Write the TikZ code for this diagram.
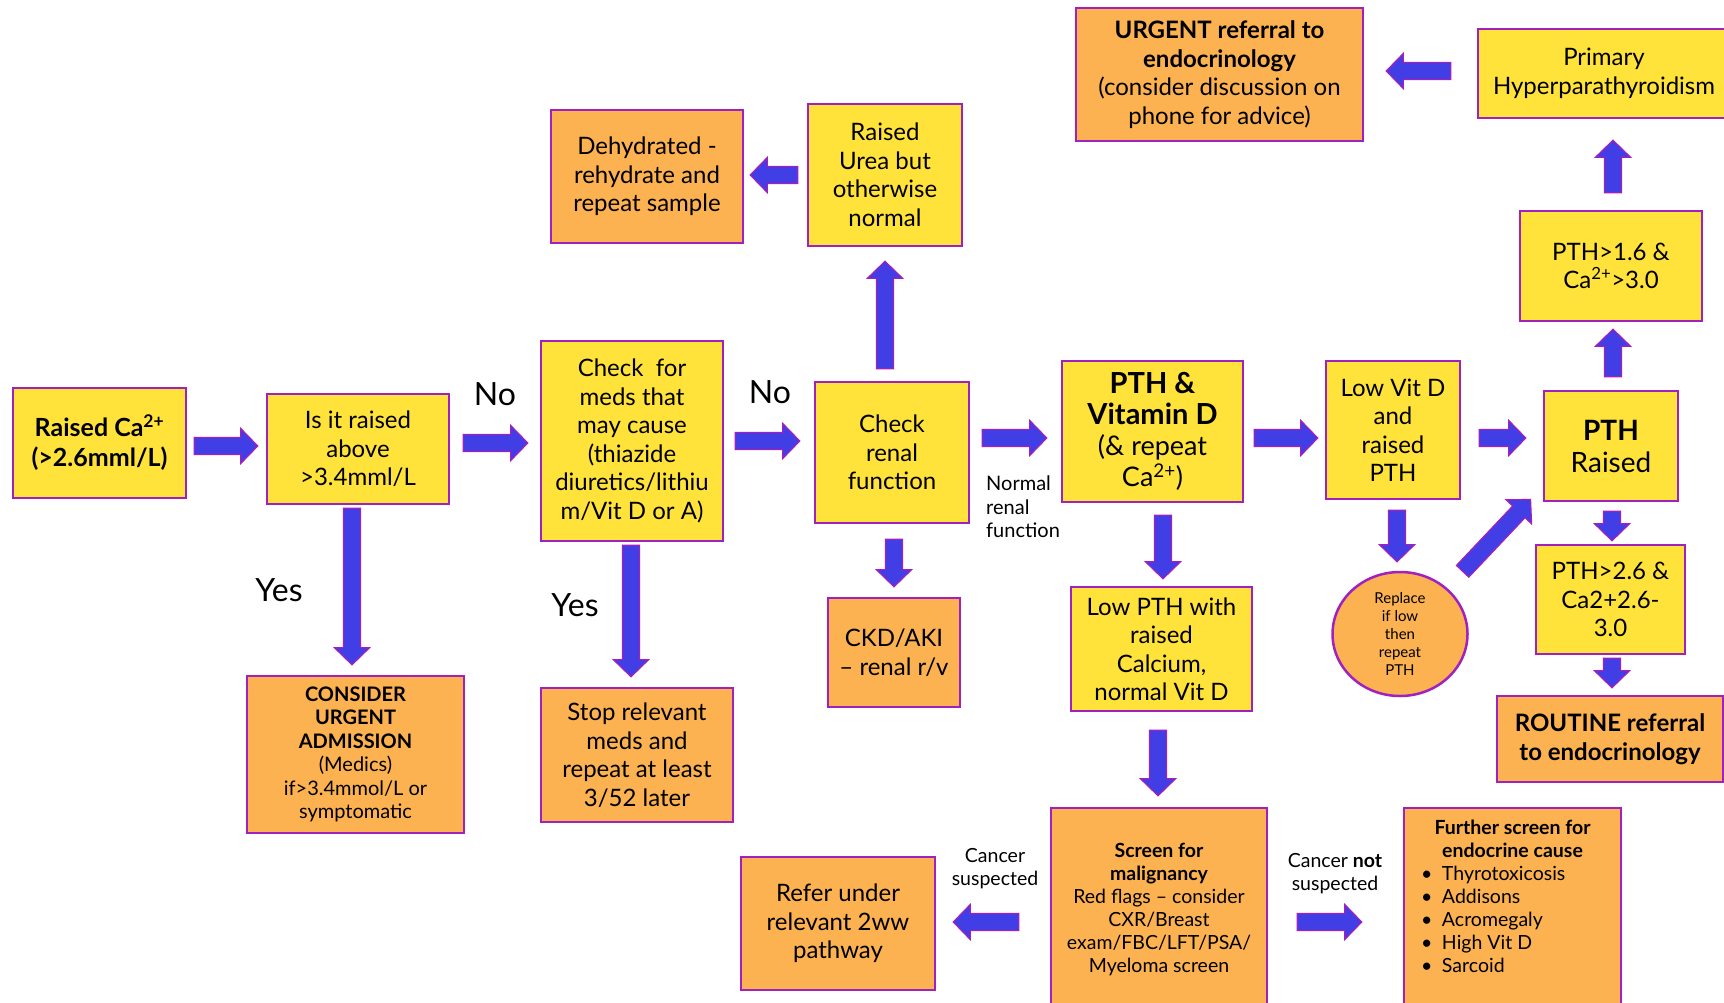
\documentclass[tikz,border=0pt]{standalone}
\usepackage{fontspec}
\setmainfont{Lato}
\usetikzlibrary{calc,shapes.geometric}

\definecolor{boxyellow}{HTML}{FFE33B}
\definecolor{boxorange}{HTML}{FCB250}
\definecolor{boxline}{HTML}{A020C0}
\definecolor{arrowblue}{HTML}{403EE4}

\tikzset{
    box/.style={draw=boxline, line width=2.5pt, align=center, inner sep=0pt,
        font=\fontsize{24}{28.5}\selectfont},
    ybox/.style={box, fill=boxyellow},
    obox/.style={box, fill=boxorange},
    biglabel/.style={inner sep=0pt, font=\fontsize{32}{36}\selectfont},
    smalllabel/.style={inner sep=0pt, font=\fontsize{20}{23.5}\selectfont},
    arrowbody/.style={fill=arrowblue, draw=boxline, line width=1.2pt, line join=miter}
}

% block arrow from #1 to #2 (tip at #2)
\newcommand{\fatarrow}[2]{%
    \coordinate (fas) at #1;
    \coordinate (fae) at #2;
    \pgfpointdiff{\pgfpointanchor{fas}{center}}{\pgfpointanchor{fae}{center}}%
    \pgfgetlastxy{\fadx}{\fady}%
    \pgfmathsetmacro{\faang}{atan2(\fady,\fadx)}%
    \pgfmathsetmacro{\falen}{veclen(\fadx,\fady)}%
    \begin{scope}[shift={(fas)}, rotate=\faang, x=1pt, y=1pt]
        \filldraw[arrowbody] (0,-8.5) -- (\falen-17,-8.5) -- (\falen-17,-17.5) -- (\falen,0)
            -- (\falen-17,17.5) -- (\falen-17,8.5) -- (0,8.5) -- cycle;
    \end{scope}}

\begin{document}
\begin{tikzpicture}[x=1pt, y=-1pt]

    \useasboundingbox (0,0) rectangle (1724,1002);

    % First checks
    \node[ybox, minimum width=173pt, minimum height=110pt, font=\fontsize{25}{30}\selectfont\bfseries]
        (raised) at (99.5,443) {Raised Ca\textsuperscript{2+}\\(>2.6mml/L)};
    \node[ybox, minimum width=182pt, minimum height=110pt] (isit) at (358,449) {Is it raised\\above\\>3.4mml/L};
    \node[ybox, minimum width=182pt, minimum height=200pt] (meds) at (632,441)
        {Check~ for\\meds that\\may cause\\(thiazide\\diuretics/lithiu\\m/Vit D or A)};
    \node[obox, minimum width=217pt, minimum height=157pt, font=\fontsize{20}{23.5}\selectfont] (consider) at (355.5,754.5)
        {\textbf{CONSIDER}\\\textbf{URGENT}\\\textbf{ADMISSION}\\(Medics)\\if>3.4mmol/L or\\symptomatic};
    \node[obox, minimum width=192pt, minimum height=134pt] (stop) at (637,755)
        {Stop relevant\\meds and\\repeat at least\\3/52 later};

    % Renal function
    \node[ybox, minimum width=154pt, minimum height=141pt] (renal) at (892,452.5) {Check\\renal\\function};
    \node[ybox, minimum width=154pt, minimum height=142pt] (urea) at (885,175) {Raised\\Urea but\\otherwise\\normal};
    \node[obox, minimum width=192pt, minimum height=133pt] (dehyd) at (647,176.5)
        {Dehydrated -\\rehydrate and\\repeat sample};
    \node[obox, minimum width=132pt, minimum height=109pt] (ckd) at (894,652.5) {CKD/AKI\\– renal r/v};

    % PTH and vitamin D
    \node[ybox, minimum width=181pt, minimum height=141pt, font=\fontsize{27}{31}\selectfont] (pthvd) at (1152.5,431.5)
        {{\fontsize{29}{34}\selectfont\bfseries PTH \&}\\{\fontsize{29}{34}\selectfont\bfseries Vitamin D}\\(\& repeat\\Ca\textsuperscript{2+})};
    \node[ybox, minimum width=134pt, minimum height=138pt] (lowvd) at (1393,430) {Low Vit D\\and\\raised\\PTH};
    \node[obox, shape=ellipse, minimum width=135pt, minimum height=124pt, font=\fontsize{15}{18}\selectfont]
        (replace) at (1400,634) {Replace\\if low\\then\\repeat\\PTH};
    \node[ybox, minimum width=134pt, minimum height=110pt, font=\fontsize{28}{32}\selectfont] (pthr) at (1611,446)
        {\textbf{PTH}\\Raised};
    \node[ybox, minimum width=182pt, minimum height=110pt] (pth16) at (1611,266) {PTH>1.6 \&\\Ca\textsuperscript{2+}>3.0};
    \node[ybox, minimum width=252pt, minimum height=89pt] (primary) at (1604,73.5) {Primary\\Hyperparathyroidism};
    \node[obox, minimum width=287pt, minimum height=133pt] (urgent) at (1219.5,74.5)
        {\textbf{URGENT referral to}\\\textbf{endocrinology}\\(consider discussion on\\phone for advice)};
    \node[ybox, minimum width=149pt, minimum height=109pt] (pth26) at (1610.5,599.5) {PTH>2.6 \&\\Ca2+2.6-\\3.0};
    \node[obox, minimum width=226pt, minimum height=86pt, font=\fontsize{24}{29}\selectfont\bfseries] (routine) at (1610,739)
        {ROUTINE referral\\to endocrinology};

    % Low PTH and screening
    \node[ybox, minimum width=181pt, minimum height=124pt] (lowpth) at (1161.5,649)
        {Low PTH with\\raised\\Calcium,\\normal Vit D};
    \node[obox, minimum width=216pt, minimum height=202pt, font=\fontsize{19.5}{23}\selectfont] (screen) at (1159,909)
        {\textbf{Screen for}\\\textbf{malignancy}\\Red flags – consider\\CXR/Breast\\exam/FBC/LFT/PSA/\\Myeloma screen};
    \node[obox, minimum width=194pt, minimum height=133pt] (refer) at (838,923.5) {Refer under\\relevant 2ww\\pathway};
    \node[obox, minimum width=217pt, minimum height=202pt, font=\fontsize{19.5}{23}\selectfont] (further) at (1512.5,909)
        {\begin{minipage}{205pt}
            \centering{\bfseries Further screen for\\endocrine cause\par}\raggedright
            \hspace*{11pt}\makebox[21pt][l]{\textbullet}Thyrotoxicosis\\
            \hspace*{11pt}\makebox[21pt][l]{\textbullet}Addisons\\
            \hspace*{11pt}\makebox[21pt][l]{\textbullet}Acromegaly\\
            \hspace*{11pt}\makebox[21pt][l]{\textbullet}High Vit D\\
            \hspace*{11pt}\makebox[21pt][l]{\textbullet}Sarcoid\par
            \vspace{26pt}
        \end{minipage}};

    % Labels
    \node[biglabel] (no1) at (495,394) {No};
    \node[biglabel] (no2) at (770,392) {No};
    \node[biglabel] (yes1) at (279,590) {Yes};
    \node[biglabel] (yes2) at (575,605) {Yes};
    \node[smalllabel, anchor=west, align=left] (normal) at (986,507) {Normal\\renal\\function};
    \node[smalllabel, align=center, font=\fontsize{19.5}{23}\selectfont] (cancer) at (995,869) {Cancer\\suspected};
    \node[smalllabel, align=center, font=\fontsize{19.5}{23}\selectfont] (notcancer) at (1335,874)
        {Cancer \textbf{not}\\suspected};

    % Arrows
    \fatarrow{($(raised.east)+(7,3)$)}{($(isit.west)+(-8,-3)$)}
    \fatarrow{($(isit.east)+(13,-6)$)}{($(meds.west)+(-12,2)$)}
    \fatarrow{($(meds.east)+(11,0)$)}{($(renal.west)+(-14,-11.5)$)}
    \fatarrow{($(renal.east)+(12,-14.5)$)}{($(pthvd.west)+(-14,6.5)$)}
    \fatarrow{($(pthvd.east)+(10,6.5)$)}{($(lowvd.west)+(-7,8)$)}
    \fatarrow{($(lowvd.east)+(18,8)$)}{($(pthr.west)+(-17,-8)$)}
    \fatarrow{($(isit.south)+(-6,3)$)}{($(consider.north)+(-3.5,-10)$)}
    \fatarrow{($(meds.south)+(-1,3)$)}{($(stop.north)+(-6,-10)$)}
    \fatarrow{($(renal.north)+(-7,-12)$)}{($(urea.south)+(0,14)$)}
    \fatarrow{($(urea.west)+(-9,0)$)}{($(dehyd.east)+(6,-1.5)$)}
    \fatarrow{($(renal.south)+(2,15)$)}{($(ckd.north)+(0,-10)$)}
    \fatarrow{($(pthvd.south)+(10.5,12)$)}{($(lowpth.north)+(1.5,-7)$)}
    \fatarrow{($(lowpth.south)+(-3.5,18)$)}{($(screen.north)+(-1,-11)$)}
    \fatarrow{($(screen.west)+(-31,13)$)}{($(refer.east)+(17,-1.5)$)}
    \fatarrow{($(screen.east)+(29,13)$)}{($(further.west)+(-41,13)$)}
    \fatarrow{($(lowvd.south)+(4,10)$)}{($(replace.north)+(-3,-9)$)}
    \fatarrow{($(replace.north east)+(14,-18)$)}{($(pthr.south west)+(-12,-3)$)}
    \fatarrow{($(pthr.south)+(1,9)$)}{($(pth26.north)+(1.5,-3)$)}
    \fatarrow{($(pth26.south)+(1.5,3)$)}{($(routine.north)+(2,-7)$)}
    \fatarrow{($(pthr.north)+(2,-13)$)}{($(pth16.south)+(2,7)$)}
    \fatarrow{($(pth16.north)+(2,-17)$)}{($(primary.south)+(9,21)$)}
    \fatarrow{($(primary.west)+(-26,-2.5)$)}{($(urgent.east)+(22,-3.5)$)}

\end{tikzpicture}
\end{document}
